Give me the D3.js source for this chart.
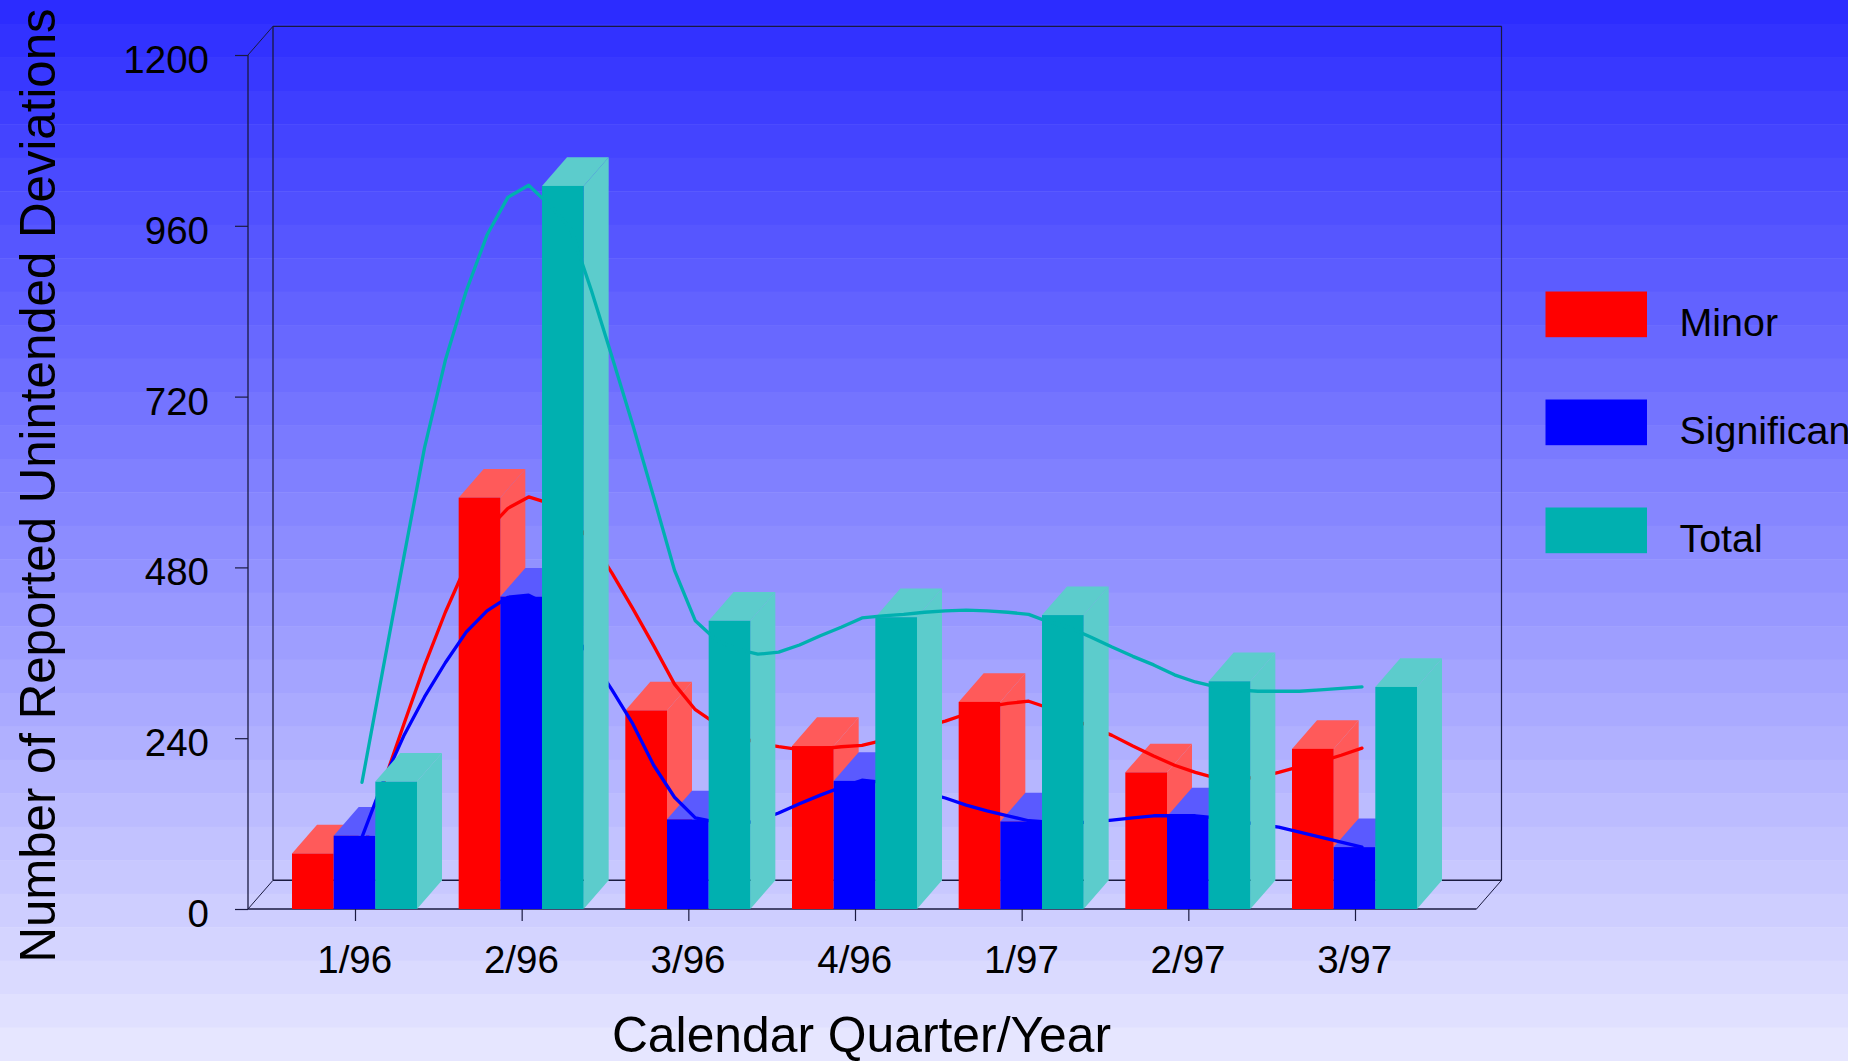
<!DOCTYPE html>
<html><head><meta charset="utf-8">
<script src="https://cdn.jsdelivr.net/npm/d3@7"></script>
<style>html,body{margin:0;background:#fff;overflow:hidden}svg{display:block}text{font-family:"Liberation Sans",Arial,sans-serif;fill:#000}</style>
</head><body><svg id="c" width="1848" height="1061"></svg>
<script>
const quarters=["1/96","2/96","3/96","4/96","1/97","2/97","3/97"];
const seriesNames=["Minor","Significant","Total"];
const minor=[78,578,279,229,291,192,225];
const significant=[103,439,126,180,123,130,87];
const total=[179,1016,405,410,413,320,312];
const yTicks=[0,240,480,720,960,1200];
// curves, eight readings per quarter
const minorCurve=[77,174,259,342,417,483,532,563,579,570,547,518,472,422,370,316,280,260,244,233,228,224,225,228,230,237,247,256,264,274,284,289,292,282,268,256,244,229,215,202,192,184,183,185,192,200,207,216,226];
const significantCurve=[101,178,243,298,346,389,419,438,441,426,392,353,308,260,202,157,128,122,119,124,135,148,160,171,181,178,173,164,156,146,138,131,124,122,121,122,125,128,131,131,131,128,124,119,115,108,101,94,87];
const totalCurve=[178,336,493,648,771,868,947,1000,1017,989,957,870,776,680,579,476,405,378,365,358,361,371,384,396,409,412,414,417,419,420,419,417,414,403,395,382,368,355,343,329,319,312,308,306,306,306,308,310,312];

const W=1848,H=1061;
const svg=d3.select("#c");
const bandTop=24,bandH=33.45,nBands=32;
const bgColor=d3.scaleLinear().domain([0,nBands-1]).range([44,230]);
svg.append("g").selectAll("rect").data(d3.range(nBands)).join("rect")
 .attr("x",0).attr("width",W)
 .attr("y",i=>i===0?0:bandTop+(i-1)*bandH)
 .attr("height",i=>i===0?bandTop:bandH+.5)
 .attr("fill",i=>{const v=Math.round(bgColor(i));return `rgb(${v},${v},255)`});

const y=d3.scaleLinear().domain([0,1200]).range([909,55]);
const x=d3.scalePoint().domain(quarters).range([355,1355]);
const sx=d3.scaleBand().domain(seriesNames).range([-63,62]);
const lineX=d3.scaleLinear().domain([0,48]).range([362,1362]);
const depthX=25,depthY=28.7;
const frontL=248,frontR=1476.5;

const frame=[
 [frontL,y(0),frontR,y(0),1.6],
 [frontL,y(1200),frontL,y(0),1.3],
 [frontL+depthX,y(1200)-depthY,frontL+depthX,y(0)-depthY,1.3],
 [frontL+depthX,y(1200)-depthY,frontR+depthX,y(1200)-depthY,1.2],
 [frontR+depthX,y(1200)-depthY,frontR+depthX,y(0)-depthY,1.2],
 [frontL+depthX,y(0)-depthY,frontR+depthX,y(0)-depthY,1.6],
 [frontL,y(0),frontL+depthX,y(0)-depthY,1],
 [frontL,y(1200),frontL+depthX,y(1200)-depthY,1],
 [frontR,y(0),frontR+depthX,y(0)-depthY,1]
];
svg.append("g").selectAll("line").data(frame).join("line")
 .attr("x1",d=>d[0]).attr("y1",d=>d[1]).attr("x2",d=>d[2]).attr("y2",d=>d[3])
 .attr("stroke","#1a1a40").attr("stroke-width",d=>d[4]);

const yAxis=d3.axisLeft(y).tickValues(yTicks).tickFormat(d3.format("d")).tickSize(13).tickSizeOuter(0).tickPadding(26);
const gy=svg.append("g").attr("transform",`translate(${frontL},0)`).call(yAxis);
gy.select(".domain").remove();
gy.selectAll("line").attr("stroke","#1a1a40").attr("stroke-width",1.2);
gy.selectAll("text").attr("font-size",38.5).attr("dy",17.5).attr("font-family",null);
const xAxis=d3.axisBottom(x).tickSize(12).tickSizeOuter(0).tickPadding(0);
const gx=svg.append("g").attr("transform",`translate(0,${y(0)})`).call(xAxis);
gx.select(".domain").remove();
gx.selectAll("line").attr("stroke","#1a1a40").attr("stroke-width",1.2);
gx.selectAll("text").attr("font-size",38.5).attr("x",-0.8).attr("y",64).attr("dy",0).attr("font-family",null);

const styles=[
 {name:"Minor",vals:minor,curve:minorCurve,c:"#ff0000",l:"#ff5a5a"},
 {name:"Significant",vals:significant,curve:significantCurve,c:"#0000ff",l:"#5a5aff"},
 {name:"Total",vals:total,curve:totalCurve,c:"#00b0b0",l:"#5ccccc"}
];
const path=d3.line().x((d,i)=>lineX(i)).y(d=>y(d)).curve(d3.curveLinear);
styles.forEach(s=>{
 const g=svg.append("g");
 const bw=sx.bandwidth();
 const bars=g.selectAll("g").data(s.vals).join("g");
 const X=(d,i)=>x(quarters[i])+sx(s.name);
 bars.append("path").attr("fill",s.l).attr("d",(d,i)=>{
  const a=X(d,i),t=y(d);
  return d3.line()([[a,t],[a+depthX,t-depthY],[a+bw+depthX,t-depthY],[a+bw,t]])+"Z";});
 bars.append("path").attr("fill",s.l).attr("d",(d,i)=>{
  const a=X(d,i)+bw,t=y(d),b=y(0);
  return d3.line()([[a,t],[a+depthX,t-depthY],[a+depthX,b-depthY],[a,b]])+"Z";});
 bars.append("rect").attr("fill",s.c)
  .attr("x",(d,i)=>X(d,i)).attr("width",bw)
  .attr("y",d=>y(d)).attr("height",d=>y(0)-y(d));
 g.append("path").datum(s.curve).attr("d",path).attr("fill","none")
  .attr("stroke",s.c).attr("stroke-width",3.3).attr("stroke-linecap","round").attr("stroke-linejoin","round");
});

const legendY=d3.scalePoint().domain(seriesNames).range([291.5,507.5]);
const lg=svg.append("g").selectAll("g").data(styles).join("g");
lg.append("rect").attr("x",1545.5).attr("y",d=>legendY(d.name)).attr("width",101.5).attr("height",45.7).attr("fill",d=>d.c);
lg.append("text").attr("x",1679.5).attr("y",d=>legendY(d.name)+44.5).attr("font-size",39.4).text(d=>d.name);

svg.append("text").attr("x",861.5).attr("y",1052).attr("text-anchor","middle").attr("font-size",49.8).text("Calendar Quarter/Year");
svg.append("text").attr("transform","translate(55,485.5) rotate(-90)").attr("text-anchor","middle").attr("font-size",49.2).text("Number of Reported Unintended Deviations");
</script></body></html>
